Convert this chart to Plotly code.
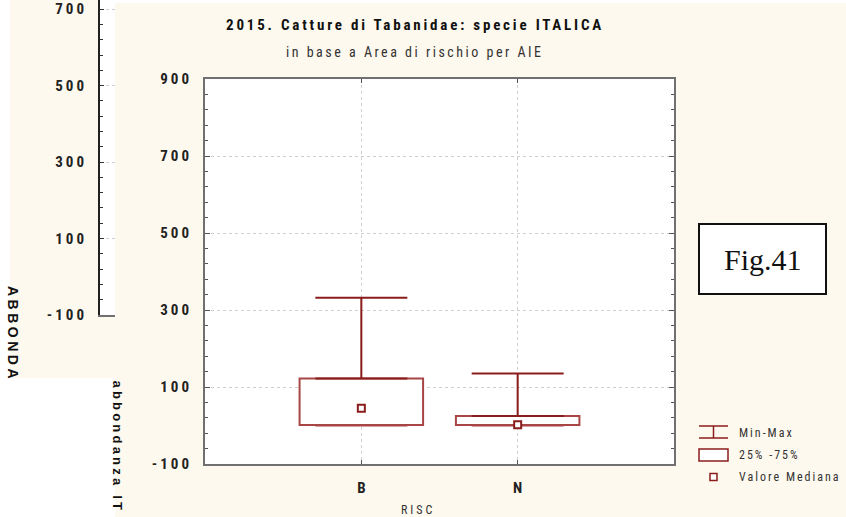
import plotly.graph_objects as go

# ---------------- data ----------------
categories = ["B", "N"]
minimum = [0, 0]
quart25 = [1, 1]
median = [45, 2]
quart75 = [122, 25]
maximum = [332, 135]

y_ticks = [-100, 100, 300, 500, 700, 900]
bg_ticks = [-100, 100, 300, 500, 700]

W, H = 846, 517
BEIGE = "#FEF9EE"
BOX_COL = "#A84545"
WHISK_COL = "#8B1C1C"
NARROW = "Roboto Condensed, DejaVu Sans Condensed, Liberation Sans Narrow, Liberation Sans, Arial, sans-serif"


def px(x):
    return x / W


def py(y):
    return 1 - y / H


def sp(t, s=3):
    return f'<span style="letter-spacing:{s}px">{t}</span>'


fig = go.Figure()

# background (partly hidden) chart axes
fig.add_trace(go.Scatter(x=[], y=[], xaxis="x2", yaxis="y2", showlegend=False))

# boxes (25%-75%)
fig.add_trace(go.Bar(
    x=categories,
    y=[b - a for a, b in zip(quart25, quart75)],
    base=quart25,
    width=0.79,
    marker=dict(color="white", line=dict(color=BOX_COL, width=2)),
    showlegend=False, hoverinfo="skip",
))

# upper whisker
fig.add_trace(go.Scatter(
    x=categories, y=quart75, mode="markers",
    marker=dict(size=1, color="rgba(0,0,0,0)"),
    error_y=dict(type="data", symmetric=False,
                 array=[m - q for m, q in zip(maximum, quart75)],
                 arrayminus=[0, 0], color=WHISK_COL, thickness=2, width=46),
    showlegend=False, hoverinfo="skip",
))
# lower whisker
fig.add_trace(go.Scatter(
    x=categories, y=quart25, mode="markers",
    marker=dict(size=1, color="rgba(0,0,0,0)"),
    error_y=dict(type="data", symmetric=False,
                 array=[0, 0],
                 arrayminus=[q - m for q, m in zip(quart25, minimum)],
                 color=BOX_COL, thickness=2, width=46),
    showlegend=False, hoverinfo="skip",
))
# median
fig.add_trace(go.Scatter(
    x=categories, y=median, mode="markers",
    marker=dict(symbol="square", size=7, color="white",
                line=dict(color=WHISK_COL, width=2)),
    showlegend=False, hoverinfo="skip",
))

shapes = []
# left background chart panel
shapes.append(dict(type="rect", xref="paper", yref="paper", layer="below",
                   x0=px(10), x1=px(115), y0=py(378), y1=py(0),
                   fillcolor=BEIGE, line=dict(width=0)))
shapes.append(dict(type="rect", xref="paper", yref="paper", layer="below",
                   x0=px(100), x1=px(115), y0=py(315), y1=py(0),
                   fillcolor="white", line=dict(width=0)))
# main chart panel
shapes.append(dict(type="rect", xref="paper", yref="paper", layer="below",
                   x0=px(115), x1=px(846), y0=py(517), y1=py(3),
                   fillcolor=BEIGE, line=dict(width=0)))
shapes.append(dict(type="rect", xref="paper", yref="paper", layer="below",
                   x0=px(205), x1=px(674), y0=py(464), y1=py(79),
                   fillcolor="white", line=dict(width=0)))
# Fig.41 box
shapes.append(dict(type="rect", xref="paper", yref="paper", layer="above",
                   x0=px(699), x1=px(826), y0=py(294), y1=py(224),
                   fillcolor="white", line=dict(color="#111", width=2)))
# legend symbols
shapes += [
    dict(type="line", xref="paper", yref="paper", x0=px(699), x1=px(728),
         y0=py(426), y1=py(426), line=dict(color=WHISK_COL, width=1.5)),
    dict(type="line", xref="paper", yref="paper", x0=px(699), x1=px(728),
         y0=py(438), y1=py(438), line=dict(color=WHISK_COL, width=1.5)),
    dict(type="line", xref="paper", yref="paper", x0=px(713.5), x1=px(713.5),
         y0=py(426), y1=py(438), line=dict(color=WHISK_COL, width=1.5)),
    dict(type="rect", xref="paper", yref="paper", x0=px(699), x1=px(728),
         y0=py(461), y1=py(449), fillcolor="white",
         line=dict(color=WHISK_COL, width=1.5)),
    dict(type="rect", xref="paper", yref="paper", x0=px(710), x1=px(717),
         y0=py(480.5), y1=py(473.5), fillcolor="white",
         line=dict(color=WHISK_COL, width=1.5)),
]

annotations = [
    dict(text="<b>" + sp("2015. Catture di Tabanidae: specie ITALICA", 2.8) + "</b>",
         x=px(415), y=py(25), xref="paper", yref="paper", showarrow=False,
         xanchor="center", yanchor="middle",
         font=dict(family=NARROW, size=15, color="#111")),
    dict(text=sp("in base a Area di rischio per AIE", 2.5),
         x=px(414), y=py(52), xref="paper", yref="paper", showarrow=False,
         xanchor="center", yanchor="middle",
         font=dict(family=NARROW, size=14, color="#333")),
    dict(text=sp("RISC", 3),
         x=px(418), y=py(510), xref="paper", yref="paper", showarrow=False,
         xanchor="center", yanchor="middle",
         font=dict(family=NARROW, size=12, color="#333")),
    dict(text="Fig.41", x=px(762.5), y=py(259), xref="paper", yref="paper",
         showarrow=False, xanchor="center", yanchor="middle",
         font=dict(family="Liberation Serif, Times New Roman, serif", size=30,
                   color="#111")),
    dict(text=sp("Min-Max", 2.0), x=px(737), y=py(433), xref="paper", yref="paper",
         showarrow=False, xanchor="left", yanchor="middle",
         font=dict(family=NARROW, size=12, color="#333")),
    dict(text=sp("25% -75%", 2.0), x=px(737), y=py(455), xref="paper", yref="paper",
         showarrow=False, xanchor="left", yanchor="middle",
         font=dict(family=NARROW, size=12, color="#333")),
    dict(text=sp("Valore Mediana", 2.0), x=px(737), y=py(477), xref="paper",
         yref="paper", showarrow=False, xanchor="left", yanchor="middle",
         font=dict(family=NARROW, size=12, color="#333")),
    dict(text="<b>" + sp("abbondanza IT", 3.2) + "</b>", x=px(117), y=py(378),
         xref="paper", yref="paper", showarrow=False, textangle=90,
         xanchor="center", yanchor="top",
         font=dict(family="Liberation Sans, Arial, sans-serif", size=13,
                   color="#111")),
    dict(text="<b>" + sp("ABBONDA", 3.5) + "</b>", x=px(13), y=py(284),
         xref="paper", yref="paper", showarrow=False, textangle=90,
         xanchor="center", yanchor="top",
         font=dict(family="Liberation Sans, Arial, sans-serif", size=14,
                   color="#111")),
]

tickfont = dict(family=NARROW, size=15, color="#222", weight="bold")

fig.update_layout(
    template="none",
    width=W, height=H,
    margin=dict(l=0, r=0, t=0, b=0, autoexpand=False),
    paper_bgcolor="white",
    plot_bgcolor="rgba(0,0,0,0)",
    showlegend=False,
    shapes=shapes,
    annotations=annotations,
    barmode="overlay",
    xaxis=dict(
        domain=[px(205), px(674)], automargin=False,
        type="category", range=[-1, 2],
        tickvals=categories, ticktext=[f"<b>{c}</b>" for c in categories],
        tickfont=tickfont,
        ticks="inside", ticklen=4, tickcolor="#555",
        showline=True, linecolor="#707070", linewidth=2, mirror="ticks",
        showgrid=True, gridcolor="#cfcfcf", griddash="dot", gridwidth=1,
        zeroline=False, anchor="y", ticklabelstandoff=9,
    ),
    yaxis=dict(
        domain=[py(464), py(79)], automargin=False,
        range=[-100, 900],
        tickvals=y_ticks, ticktext=[sp(str(v), 3) for v in y_ticks],
        tickfont=tickfont,
        ticks="inside", ticklen=5, tickcolor="#555",
        minor=dict(tick0=-100, dtick=40, ticks="inside", ticklen=3,
                   tickcolor="#555", showgrid=False),
        showline=True, linecolor="#707070", linewidth=2, mirror="ticks",
        showgrid=True, gridcolor="#cfcfcf", griddash="dot", gridwidth=1,
        zeroline=False, anchor="x", ticklabelstandoff=8,
    ),
    xaxis2=dict(
        domain=[px(100), px(115)], range=[0, 1], anchor="y2", automargin=False,
        showticklabels=False, ticks="", showgrid=False, zeroline=False,
        showline=True, linecolor="#707070", linewidth=2,
    ),
    yaxis2=dict(
        domain=[py(315), 1.0], range=[-100, 724], anchor="x2", automargin=False,
        tickvals=bg_ticks, ticktext=[sp(str(v), 3) for v in bg_ticks],
        tickfont=tickfont, ticklabeloverflow="allow",
        ticks="inside", ticklen=4, tickcolor="#333",
        minor=dict(tick0=-100, dtick=40, ticks="inside", ticklen=3,
                   tickcolor="#333", showgrid=False),
        showline=True, linecolor="#222", linewidth=2,
        showgrid=True, gridcolor="#cfcfcf", griddash="dot", gridwidth=1,
        zeroline=False, ticklabelstandoff=8,
    ),
)

fig.write_html("out.html")
